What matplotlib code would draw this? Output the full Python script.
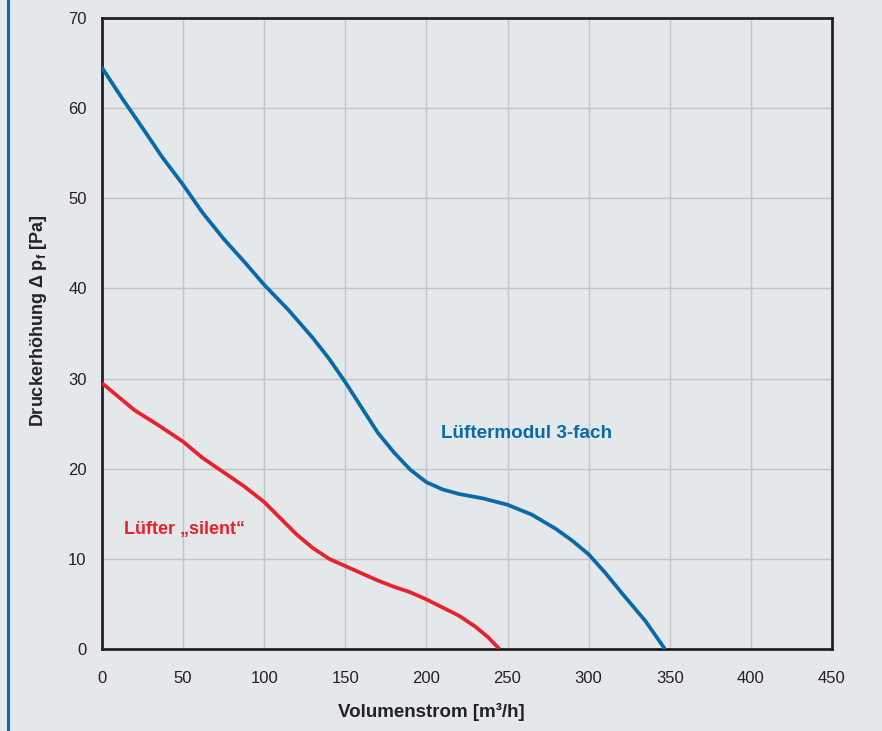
import matplotlib.pyplot as plt
from matplotlib.lines import Line2D

# Kennlinien (Volumenstrom in m3/h, Druckerhoehung in Pa)
modul_x = [0, 12, 25, 37, 50, 62, 75, 88, 100, 115, 130, 140, 150, 160, 170, 180, 190,
           200, 210, 220, 235, 250, 265, 280, 290, 300, 310, 320, 335, 347]
modul_y = [64.5, 61.2, 57.8, 54.6, 51.5, 48.4, 45.5, 42.9, 40.4, 37.6, 34.5, 32.2, 29.6,
           26.8, 24.0, 21.8, 19.9, 18.5, 17.7, 17.2, 16.7, 16.0, 14.9, 13.3, 12.0, 10.5,
           8.5, 6.3, 3.1, 0.0]

silent_x = [0, 10, 20, 35, 50, 62, 75, 88, 100, 110, 120, 130, 140, 150, 160, 170, 180,
            190, 200, 210, 220, 230, 238, 245]
silent_y = [29.5, 28.0, 26.5, 24.8, 23.0, 21.2, 19.6, 18.0, 16.3, 14.5, 12.7, 11.2, 10.0,
            9.2, 8.4, 7.6, 6.9, 6.3, 5.5, 4.6, 3.7, 2.5, 1.3, 0.0]

xticks = [0, 50, 100, 150, 200, 250, 300, 350, 400, 450]
yticks = [0, 10, 20, 30, 40, 50, 60, 70]

bg = "#e4e8ea"
blue = "#0a6aa8"
red = "#e8222d"
narrow = ["Liberation Sans Narrow", "Liberation Sans", "DejaVu Sans"]

plt.rcParams["font.family"] = ["Liberation Sans", "DejaVu Sans"]

fig = plt.figure(figsize=(8.82, 7.31), dpi=100, facecolor=bg)
ax = fig.add_axes([0.1156, 0.1122, 0.8277, 0.8632])
ax.set_facecolor(bg)

ax.plot(modul_x, modul_y, color=blue, lw=2.7, solid_capstyle="butt", zorder=3)
ax.plot(silent_x, silent_y, color=red, lw=2.7, solid_capstyle="butt", zorder=3)

ax.set_xlim(0, 450)
ax.set_ylim(0, 70)
ax.set_xticks(xticks)
ax.set_yticks(yticks)
ax.grid(True, color="#c2c4c6", lw=1.0)
ax.set_axisbelow(True)
for s in ax.spines.values():
    s.set_linewidth(2)
    s.set_color("#222222")
ax.tick_params(length=0, labelsize=12, colors="#222222")
ax.tick_params(axis="x", pad=16)
ax.tick_params(axis="y", pad=11)

ax.set_xlabel("Volumenstrom [m³/h]", fontsize=13.5, fontweight="bold", color="#222222",
              family=narrow)
ax.set_ylabel("Druckerhöhung Δ p$_\\mathregular{f}$ [Pa]", fontsize=13, fontweight="bold",
              color="#222222", family=narrow)
ax.xaxis.set_label_coords(0.4507, -0.086)
ax.yaxis.set_label_coords(-0.073, 0.52)

ax.text(209, 23.9, "Lüftermodul 3-fach", color=blue, fontsize=13.6, fontweight="bold",
        va="center", family=narrow)
ax.text(13.6, 13.3, "Lüfter „silent“", color=red, fontsize=13, fontweight="bold",
        va="center", family=narrow)

fig.add_artist(Line2D([8 / 882, 8 / 882], [0, 1], color=blue, lw=2.2, transform=fig.transFigure))

fig.savefig("out.png", dpi=100, facecolor=bg)
